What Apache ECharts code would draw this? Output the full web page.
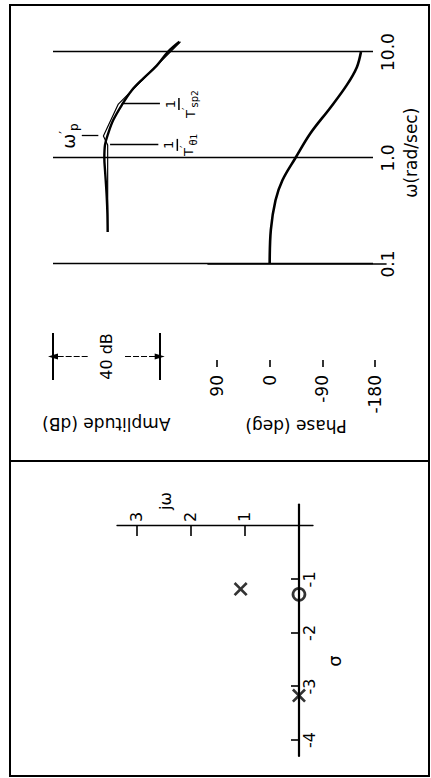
<!DOCTYPE html>
<html>
<head>
<meta charset="utf-8">
<script src="https://cdn.jsdelivr.net/npm/echarts@6/dist/echarts.min.js"></script>
<style>
  html, body { margin: 0; padding: 0; background: #fff; width: 431px; height: 778px; overflow: hidden; }
  /* the sheet is laid out in landscape and turned a quarter-turn counter-clockwise */
  #sheet { position: absolute; left: 0; top: 0; width: 778px; height: 431px;
           transform-origin: 0 0; transform: translateY(778px) rotate(-90deg); }
</style>
</head>
<body>
<div id="sheet"></div>
<script>
// ---- Bode plot data ----
const freqGrid = [0.1, 1, 10];
const freqGridLabels = ['0.1', '1.0', '10.0'];

// exact amplitude curve (dB, relative)
const ampFreq  = [0.2, 0.3, 0.43, 0.6, 0.77, 1.0, 1.33, 1.72, 2.28, 3.16, 4.34, 5.65, 7.45, 10.1, 12.5];
const ampExact = [-0.5, -0.4, -0.15, 0.2, 0.5, 0.75, 0.5, -0.75, -2.6, -5.8, -9.5, -13.9, -18.9, -23.2, -27.4];

// straight-line asymptotes
const asymFreq = [0.2, 1.33, 1.61, 3.23, 12.5];
const asymDb   = [-0.5, -0.5, 1.1, -4.5, -27.8];

// phase curve (deg)
const phaseFreq = [0.1, 0.21, 0.4, 0.62, 1.0, 1.72, 3.0, 4.9, 7.2, 10];
const phaseDeg  = [0, -2, -10, -22, -44, -70, -104, -132, -149, -156];
const phaseTicks = [-180, 90, 90];          // min, max, step

// break frequencies: ω'p, 1/T'θ1, 1/T'sp2
const breakFreqs = [1.61, 1.33, 3.23];

// amplitude scale bar (dB)
const dbScaleBar = [20, -20];

// ---- pole-zero map ----
const poles = [[-1.18, 1.08], [-3.17, 0]];
const zeros = [[-1.28, 0]];
const sigmaTicks = [-4, -3, -2, -1];
const omegaTicks = [1, 2, 3];

const FONT = 'DejaVu Sans';
const INK = '#000';

const fracRich = {
  n:   { fontSize: 13, lineHeight: 13, color: INK, fontFamily: FONT },
  bar: { width: 12, height: 1.5, lineHeight: 4, backgroundColor: INK },
  t:   { fontSize: 13, lineHeight: 15, color: INK, fontFamily: FONT },
  p:   { fontSize: 11, lineHeight: 15, color: INK, fontFamily: FONT, verticalAlign: 'top' },
  s:   { fontSize: 10, lineHeight: 16, color: INK, fontFamily: FONT, verticalAlign: 'bottom' },
  ss:  { fontSize: 9,  lineHeight: 19, color: INK, fontFamily: FONT, verticalAlign: 'bottom' }
};

const chart = echarts.init(document.getElementById('sheet'), null, { renderer: 'svg' });

const logX = (idx) => ({
  type: 'log', logBase: 10, min: 0.1, max: 12.6, gridIndex: idx,
  axisLine: { show: false }, axisTick: { show: false }, axisLabel: { show: false }, splitLine: { show: false }
});

chart.setOption({
  animation: false,
  backgroundColor: '#fff',
  textStyle: { fontFamily: FONT, color: INK },
  grid: [
    { left: 514, top: 53, width: 222.6, height: 320 },   // amplitude
    { left: 514, top: 217, width: 222.6, height: 158 },  // phase
    { left: 514, top: 208, width: 222.6, height: 178 },  // phase scale spine
    { left: 398, top: 53, width: 47, height: 106.7 },    // 40 dB bar
    { left: 22, top: 117, width: 251.5, height: 196 }    // s-plane
  ],
  xAxis: [
    Object.assign(logX(0), {
      name: 'ω(rad/sec)', nameLocation: 'middle', nameGap: 29,
      nameTextStyle: { fontSize: 17, color: INK, fontFamily: FONT }
    }),
    logX(1),
    { type: 'value', gridIndex: 2, min: 0, max: 1, show: false },
    { type: 'value', gridIndex: 3, min: 0, max: 1, show: false },
    {
      // real axis, drawn through the origin
      type: 'value', gridIndex: 4, min: -4.3, max: 0.4, offset: -14,
      axisLine: { onZero: false, lineStyle: { color: INK, width: 2.2 } },
      axisTick: { customValues: sigmaTicks, inside: true, length: 8, lineStyle: { color: INK, width: 1.6 } },
      axisLabel: { customValues: sigmaTicks, margin: 2, fontSize: 16, color: INK, fontFamily: FONT },
      splitLine: { show: false }
    }
  ],
  yAxis: [
    { type: 'value', gridIndex: 0, min: -100, max: 20, show: false },
    {
      type: 'value', gridIndex: 1, min: phaseTicks[0], max: phaseTicks[1], interval: phaseTicks[2], offset: 103,
      axisLine: { show: false },
      axisTick: { inside: true, length: 7, lineStyle: { color: INK, width: 1.6 } },
      axisLabel: { margin: 8, fontSize: 17, color: INK, fontFamily: FONT },
      splitLine: { show: false },
      name: 'Phase (deg)', nameLocation: 'middle', nameGap: 48,
      nameTextStyle: { fontSize: 17, color: INK, fontFamily: FONT }
    },
    {
      type: 'value', gridIndex: 2, min: 0, max: 1, offset: 103,
      axisLine: { show: true, lineStyle: { color: INK, width: 1.6 } },
      axisTick: { show: false }, axisLabel: { show: false }, splitLine: { show: false }
    },
    {
      type: 'value', gridIndex: 3, min: dbScaleBar[1], max: dbScaleBar[0],
      axisLine: { show: false }, axisTick: { show: false }, axisLabel: { show: false }, splitLine: { show: false },
      name: 'Amplitude (dB)', nameLocation: 'middle', nameGap: 35,
      nameTextStyle: { fontSize: 17, color: INK, fontFamily: FONT }
    },
    {
      // imaginary axis, drawn through the origin
      type: 'value', gridIndex: 4, min: -0.26, max: 3.37, offset: -230,
      axisLine: { onZero: false, lineStyle: { color: INK, width: 1.3 } },
      axisTick: { customValues: omegaTicks, length: 10, lineStyle: { color: INK, width: 1.6 } },
      axisLabel: { customValues: omegaTicks, inside: true, margin: 4, fontSize: 16, color: INK, fontFamily: FONT },
      splitLine: { show: false }
    }
  ],
  series: [
    {
      type: 'line', name: 'amplitude', xAxisIndex: 0, yAxisIndex: 0,
      data: ampFreq.map((f, i) => [f, ampExact[i]]),
      smooth: 0.35, symbol: 'none', clip: false,
      lineStyle: { color: INK, width: 2.4 },
      markLine: {
        silent: true, symbol: 'none', animation: false,
        lineStyle: { color: INK, width: 1.3, type: 'solid' },
        data: [
          ...freqGrid.map((f, i) => ({
            xAxis: f,
            label: { show: true, position: 'start', distance: 6, formatter: freqGridLabels[i],
                     fontSize: 17, color: INK, fontFamily: FONT }
          })),
          [
            { coord: [breakFreqs[0], 3.0] },
            { coord: [breakFreqs[0], 9.2],
              label: { show: true, position: 'end', distance: 2,
                       formatter: '{w|ω}{p|′}{s|p}',
                       rich: {
                         w: { fontSize: 18, lineHeight: 20, color: INK, fontFamily: FONT },
                         p: { fontSize: 12, lineHeight: 20, color: INK, fontFamily: FONT, verticalAlign: 'top' },
                         s: { fontSize: 12, lineHeight: 22, color: INK, fontFamily: FONT, verticalAlign: 'bottom' }
                       } } }
          ],
          [
            { coord: [breakFreqs[1], -1.4] },
            { coord: [breakFreqs[1], -19.5],
              label: { show: true, position: 'end', distance: 4,
                       formatter: '{n|1}\n{bar|}\n{t|T}{p|′}{s|θ}{ss|1}', rich: fracRich } }
          ],
          [
            { coord: [breakFreqs[2], -5.8] },
            { coord: [breakFreqs[2], -20.1],
              label: { show: true, position: 'end', distance: 4,
                       formatter: '{n|1}\n{bar|}\n{t|T}{p|′}{s|sp}{ss|2}', rich: fracRich } }
          ]
        ]
      }
    },
    {
      type: 'line', name: 'asymptotes', xAxisIndex: 0, yAxisIndex: 0,
      data: asymFreq.map((f, i) => [f, asymDb[i]]),
      symbol: 'none', clip: false,
      lineStyle: { color: INK, width: 1.2 }
    },
    {
      type: 'line', name: 'phase', xAxisIndex: 1, yAxisIndex: 1,
      data: phaseFreq.map((f, i) => [f, phaseDeg[i]]),
      smooth: 0.35, symbol: 'none', clip: false,
      lineStyle: { color: INK, width: 2.6 }
    },
    {
      type: 'line', name: 'dbBar', xAxisIndex: 3, yAxisIndex: 3, data: [],
      markLine: {
        silent: true, animation: false, symbol: 'none',
        lineStyle: { color: INK, width: 2, type: 'solid' },
        label: { show: false },
        data: [
          { yAxis: dbScaleBar[0] },
          { yAxis: dbScaleBar[1] },
          [ { coord: [0.5, 7], symbol: 'none' },
            { coord: [0.5, dbScaleBar[0]], symbol: 'triangle', symbolSize: [6, 10],
              lineStyle: { width: 1.1, type: [6, 2] } } ],
          [ { coord: [0.5, -7], symbol: 'none' },
            { coord: [0.5, dbScaleBar[1]], symbol: 'triangle', symbolSize: [6, 10],
              lineStyle: { width: 1.1, type: [6, 2] } } ]
        ]
      },
      markPoint: {
        silent: true, animation: false,
        symbol: 'circle', symbolSize: 1, itemStyle: { color: 'rgba(0,0,0,0)' },
        label: { show: true, position: 'inside', formatter: '40 dB', fontSize: 16, color: INK, fontFamily: FONT },
        data: [{ coord: [0.5, 0] }]
      }
    },
    {
      type: 'scatter', name: 'poles', xAxisIndex: 4, yAxisIndex: 4, data: poles,
      symbol: 'path://M0,1.6L1.6,0L6,4.4L10.4,0L12,1.6L7.6,6L12,10.4L10.4,12L6,7.6L1.6,12L0,10.4L4.4,6Z',
      symbolSize: 14, itemStyle: { color: INK }
    },
    {
      type: 'scatter', name: 'zeros', xAxisIndex: 4, yAxisIndex: 4, data: zeros,
      symbol: 'circle', symbolSize: 12,
      itemStyle: { color: 'rgba(0,0,0,0)', borderColor: INK, borderWidth: 2.6 }
    }
  ],
  graphic: [
    { type: 'rect', shape: { x: 2, y: 10, width: 771, height: 419 },
      style: { fill: 'none', stroke: INK, lineWidth: 2 }, silent: true },
    { type: 'line', shape: { x1: 317, y1: 10, x2: 317, y2: 429 },
      style: { stroke: INK, lineWidth: 2 }, silent: true },
    { type: 'text', x: 117, y: 334,
      style: { text: 'σ', fontSize: 18, fontFamily: FONT, fill: INK, align: 'center', verticalAlign: 'middle' } },
    { type: 'text', x: 277, y: 165,
      style: { text: 'jω', fontSize: 16, fontFamily: FONT, fill: INK, align: 'center', verticalAlign: 'middle' } }
  ]
});
</script>
</body>
</html>
